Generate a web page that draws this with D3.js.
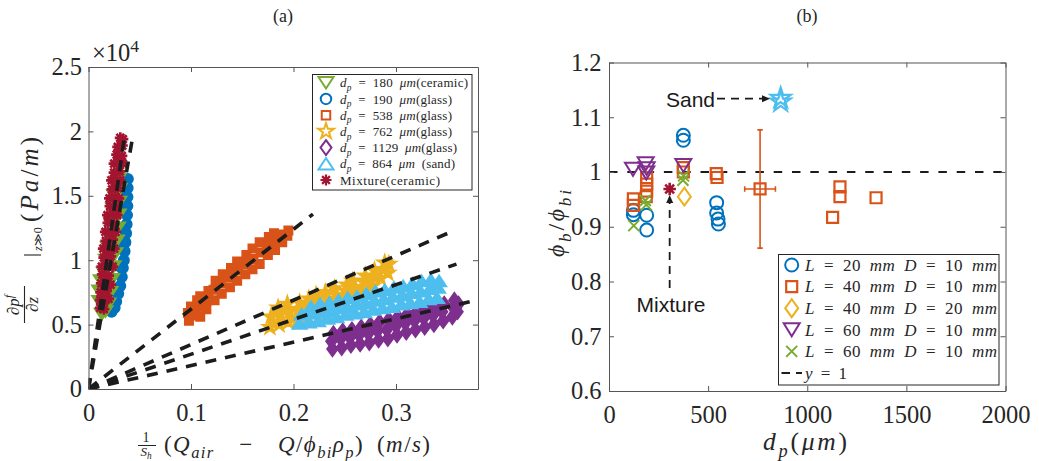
<!DOCTYPE html>
<html>
<head>
<meta charset="utf-8">
<script src="https://cdn.jsdelivr.net/npm/d3@7"></script>
<style>
  body { margin: 0; background: #fff; }
  svg { display: block; }
</style>
</head>
<body>
<svg id="fig" width="1039" height="461"></svg>
<script>
// ---------------- Panel (a): pressure gradient vs. superficial gas velocity ----------------
// x: (1/S_h)(Q_air - Q/phi_bi rho_p) in m/s, y: dp/dz in units of 10^4 Pa/m
const gradCeramic180 = [
  [0.0130,0.58],[0.0165,0.60],[0.0105,0.68],[0.0195,0.66],[0.0105,0.76],[0.0215,0.75],
  [0.0120,0.84],[0.0230,0.85],[0.0150,0.90],[0.0245,0.95],[0.0170,1.00],[0.0262,1.05],
  [0.0190,1.10],[0.0277,1.15],[0.0210,1.20],[0.0287,1.25],[0.0220,1.30],[0.0294,1.35],
  [0.0240,1.40],[0.0300,1.45],[0.0250,1.50],[0.0303,1.55],[0.0260,1.60],[0.0295,1.63]
];
const gradGlass190 = [
  [0.0225,0.60],[0.0255,0.63],[0.0270,0.68],[0.0290,0.74],[0.0310,0.80],[0.0325,0.87],
  [0.0335,0.94],[0.0345,1.00],[0.0352,1.07],[0.0360,1.14],[0.0367,1.21],[0.0372,1.28],
  [0.0376,1.35],[0.0379,1.42],[0.0380,1.49],[0.0382,1.56],[0.0384,1.63],
  [0.0310,0.95],[0.0330,1.10],[0.0340,1.25],[0.0350,1.40],[0.0355,1.55]
];
const gradGlass538 = [
  [0.098,0.53],[0.097,0.59],[0.100,0.64],[0.104,0.57],[0.105,0.63],[0.106,0.69],
  [0.109,0.56],[0.110,0.64],[0.109,0.72],[0.115,0.62],[0.116,0.69],[0.117,0.76],
  [0.123,0.69],[0.122,0.77],[0.124,0.84],[0.130,0.74],[0.129,0.82],[0.131,0.89],
  [0.138,0.79],[0.137,0.87],[0.139,0.94],[0.145,0.84],[0.146,0.92],[0.145,0.99],
  [0.153,0.89],[0.152,0.97],[0.154,1.04],[0.160,0.93],[0.161,1.01],[0.160,1.09],
  [0.167,0.97],[0.168,1.06],[0.167,1.14],[0.175,1.04],[0.174,1.12],[0.176,1.18],
  [0.182,1.08],[0.183,1.15],[0.181,1.21],[0.189,1.14],[0.190,1.20],[0.194,1.19],
  [0.195,1.23]
];
const gradGlass762 = [
  [0.177,0.48],[0.178,0.56],[0.186,0.50],[0.187,0.58],[0.185,0.63],
  [0.195,0.52],[0.196,0.60],[0.194,0.66],[0.204,0.54],[0.205,0.62],[0.206,0.67],
  [0.214,0.57],[0.213,0.64],[0.215,0.70],[0.223,0.60],[0.224,0.67],[0.222,0.73],
  [0.232,0.62],[0.233,0.70],[0.231,0.75],[0.241,0.66],[0.242,0.73],[0.240,0.78],
  [0.250,0.69],[0.251,0.76],[0.252,0.81],[0.259,0.72],[0.260,0.79],[0.258,0.84],
  [0.268,0.76],[0.269,0.83],[0.270,0.88],[0.277,0.80],[0.278,0.87],[0.279,0.92],
  [0.285,0.86],[0.287,0.93],[0.289,0.98],[0.292,0.90],[0.293,0.97]
];
const gradGlass1129 = [
  [0.238,0.31],[0.237,0.37],[0.239,0.43],[0.247,0.32],[0.246,0.39],[0.248,0.45],
  [0.256,0.34],[0.255,0.40],[0.257,0.46],[0.265,0.35],[0.264,0.42],[0.266,0.48],
  [0.274,0.36],[0.273,0.43],[0.275,0.50],[0.283,0.38],[0.282,0.45],[0.284,0.52],
  [0.292,0.39],[0.291,0.46],[0.293,0.54],[0.301,0.42],[0.300,0.49],[0.302,0.56],
  [0.310,0.44],[0.309,0.51],[0.311,0.58],[0.319,0.46],[0.318,0.53],[0.320,0.60],
  [0.328,0.48],[0.327,0.55],[0.329,0.62],[0.337,0.50],[0.336,0.57],[0.338,0.64],
  [0.346,0.53],[0.345,0.60],[0.347,0.66],[0.355,0.56],[0.356,0.63],[0.357,0.69],
  [0.360,0.60],[0.361,0.66]
];
const gradSand864 = [
  [0.206,0.51],[0.208,0.58],[0.215,0.52],[0.216,0.59],[0.217,0.64],
  [0.224,0.53],[0.225,0.60],[0.226,0.66],[0.233,0.55],[0.234,0.61],[0.235,0.67],
  [0.242,0.56],[0.243,0.63],[0.244,0.69],[0.251,0.58],[0.252,0.64],[0.253,0.71],
  [0.260,0.59],[0.261,0.66],[0.262,0.72],[0.269,0.60],[0.270,0.67],[0.271,0.74],
  [0.278,0.62],[0.279,0.69],[0.280,0.76],[0.287,0.63],[0.288,0.70],[0.289,0.77],
  [0.296,0.64],[0.297,0.72],[0.298,0.79],[0.305,0.66],[0.306,0.73],[0.307,0.80],
  [0.314,0.67],[0.315,0.75],[0.316,0.82],[0.323,0.68],[0.324,0.76],[0.325,0.84],
  [0.332,0.70],[0.333,0.78],[0.334,0.85],[0.340,0.71],[0.341,0.79],[0.342,0.84]
];
const gradMixture = [
  [0.0115,0.63],[0.0150,0.62],[0.0115,0.69],[0.0150,0.68],[0.0195,0.70],
  [0.0120,0.75],[0.0175,0.76],[0.0125,0.82],[0.0165,0.83],[0.0215,0.81],
  [0.0135,0.89],[0.0195,0.88],[0.0130,0.95],[0.0180,0.96],[0.0235,0.95],
  [0.0150,1.02],[0.0215,1.03],[0.0145,1.09],[0.0200,1.08],[0.0250,1.09],
  [0.0170,1.15],[0.0235,1.16],[0.0165,1.22],[0.0220,1.21],[0.0265,1.22],
  [0.0190,1.29],[0.0250,1.28],[0.0185,1.35],[0.0240,1.36],[0.0280,1.35],
  [0.0210,1.42],[0.0270,1.41],[0.0205,1.48],[0.0260,1.49],[0.0295,1.48],
  [0.0230,1.55],[0.0285,1.56],[0.0225,1.62],[0.0275,1.61],[0.0310,1.62],
  [0.0250,1.68],[0.0305,1.69],[0.0250,1.75],[0.0300,1.76],[0.0335,1.75],
  [0.0275,1.82],[0.0325,1.81],[0.0285,1.88],[0.0330,1.89],[0.0310,1.95],[0.0335,1.94]
];
// linear fits through the origin: slope (10^4 Pa/m per m/s) and last x of each fit
const fitSlope = [55.8, 45.4, 6.2, 3.45, 2.70, 1.82];
const fitXEnd  = [0.0356, 0.0434, 0.219, 0.356, 0.359, 0.38];

const ticksAx = [0, 0.1, 0.2, 0.3];
const ticksAy = [0, 0.5, 1, 1.5, 2, 2.5];

// ---------------- Panel (b): bed fraction ratio vs. particle diameter ----------------
const ratioL20D10 = [[123,0.930],[123,0.922],[190,0.921],[190,0.894],[375,1.067],[375,1.058],
                     [543,0.944],[543,0.925],[550,0.914],[552,0.905]];
const ratioL40D10 = [[123,0.951],[123,0.939],[190,0.990],[190,0.978],[190,0.965],[188,0.955],
                     [375,1.008],[375,1.000],[541,0.997],[545,0.990],[762,0.969],
                     [1128,0.917],[1165,0.973],[1165,0.955],[1347,0.953]];
const ratioL40D20 = [[380,0.955]];
const ratioL60D10 = [[121,1.005],[185,1.015],[190,1.006],[188,0.998],[375,1.012]];
const ratioL60D10b = [[125,0.902],[183,0.948],[188,0.940],[373,0.985],[376,0.993]];
const ratioMixture = [[306,0.969]];
const ratioSand = [[866,1.135],[866,1.128]];
// spread of the 762 um measurement: [x, y, x half-range, y half-range]
const spread762 = [762, 0.969, 77.5, 0.108];

const ticksBx = [0, 500, 1000, 1500, 2000];
const ticksBy = [0.6, 0.7, 0.8, 0.9, 1, 1.1, 1.2];

// ---------------- legend labels (\u2002 / \u2003 = math spacing) ----------------
const legendA = [
  [['d','i'],['p','ib'],['\u2002=\u2002180\u2002'],['μm','i'],['(ceramic)']],
  [['d','i'],['p','ib'],['\u2002=\u2002190\u2002'],['μm','i'],['(glass)']],
  [['d','i'],['p','ib'],['\u2002=\u2002538\u2002'],['μm','i'],['(glass)']],
  [['d','i'],['p','ib'],['\u2002=\u2002762\u2002'],['μm','i'],['(glass)']],
  [['d','i'],['p','ib'],['\u2002=\u20021129\u2002'],['μm','i'],['(glass)']],
  [['d','i'],['p','ib'],['\u2002=\u2002864\u2002'],['μm','i'],['\u2002(sand)']],
  [['Mixture(ceramic)']]
];
const legendAWidth = [128, 112, 112, 112, 117, 115, 100];
const legendB = [
  [['L','i'],['\u2002=\u200220\u2002'],['mm','i'],['\u2002'],['D','i'],['\u2002=\u200210\u2002'],['mm','i']],
  [['L','i'],['\u2002=\u200240\u2002'],['mm','i'],['\u2002'],['D','i'],['\u2002=\u200210\u2002'],['mm','i']],
  [['L','i'],['\u2002=\u200240\u2002'],['mm','i'],['\u2002'],['D','i'],['\u2002=\u200220\u2002'],['mm','i']],
  [['L','i'],['\u2002=\u200260\u2002'],['mm','i'],['\u2002'],['D','i'],['\u2002=\u200210\u2002'],['mm','i']],
  [['L','i'],['\u2002=\u200260\u2002'],['mm','i'],['\u2002'],['D','i'],['\u2002=\u200210\u2002'],['mm','i']],
  [['y','i'],['\u2002=\u20021']]
];
const legendBWidth = [192, 192, 192, 192, 192, 42];

// ---------------- styling ----------------
const C = {blue:'#0072BD', orange:'#D95319', yellow:'#EDB120', purple:'#7E2F8E',
           green:'#77AC30', cyan:'#4DBEEE', red:'#A2142F'};
const SERIF = '"Liberation Serif","Times New Roman",serif';
const SANS = '"Liberation Sans",Arial,sans-serif';
const TXT = '#262626';
const AX = '#555';
const TICK_FS = 24.5;

const svg = d3.select('#fig');
svg.append('rect').attr('width', 1039).attr('height', 461).attr('fill', '#fff');

// marker outlines centred on (0,0)
const mk = {
  circle: s => { const r = s/2; return `M${r},0A${r},${r} 0 1,1 ${-r},0A${r},${r} 0 1,1 ${r},0Z`; },
  square: s => { const h = s/2; return `M${-h},${-h}H${h}V${h}H${-h}Z`; },
  diamond: (w,h) => `M0,${-h/2}L${w/2},0L0,${h/2}L${-w/2},0Z`,
  triDown: (w,h) => `M${-w/2},${-h/2}L${w/2},${-h/2}L0,${h/2}Z`,
  triUp: (w,h) => `M${-w/2},${h/2}L${w/2},${h/2}L0,${-h/2}Z`,
  star: R => { const r = R*0.382; let p = '';
    for (let i = 0; i < 10; i++) { const a = -Math.PI/2 + i*Math.PI/5, rr = i%2 ? r : R;
      p += (i ? 'L' : 'M') + (rr*Math.cos(a)).toFixed(2) + ',' + (rr*Math.sin(a)).toFixed(2); }
    return p + 'Z'; },
  cross: s => { const h = s/2; return `M${-h},${-h}L${h},${h}M${-h},${h}L${h},${-h}`; },
  asterisk: s => { const h = s/2, d = h*0.7071;
    return `M${-h},0H${h}M0,${-h}V${h}M${-d},${-d}L${d},${d}M${-d},${d}L${d},${-d}`; }
};

// text with italic / subscript / superscript runs
function rich(text, parts, fs) {
  text.style('font-family', SERIF);
  let shift = 0;
  parts.forEach(([t, f = '']) => {
    const ts = text.append('tspan').text(t);
    if (f.includes('i')) ts.attr('font-style', 'italic');
    let target = 0, size = fs;
    if (f.includes('b')) { target = fs*0.28; size = fs*0.72; }
    if (f.includes('p')) { target = -fs*0.38; size = fs*0.72; }
    ts.attr('font-size', size);
    if (target !== shift) { ts.attr('dy', target - shift); shift = target; }
  });
  return text;
}

function drawAxes(g, x, y, xt, yt, padX, padY) {
  const [x0, x1] = x.range(), [y0, y1] = y.range();
  const fmt = d => String(d);
  const style = s => {
    s.select('.domain').attr('stroke', AX).attr('stroke-width', 1);
    s.selectAll('.tick line').attr('stroke', AX).attr('stroke-width', 1);
    s.selectAll('text').style('fill', TXT).style('font-family', SERIF).style('font-size', TICK_FS + 'px');
  };
  g.append('g').attr('transform', `translate(0,${y0})`)
    .call(d3.axisBottom(x).tickValues(xt).tickFormat(fmt).tickSizeInner(-5).tickSizeOuter(0).tickPadding(padX)).call(style);
  g.append('g').attr('transform', `translate(0,${y1})`)
    .call(d3.axisTop(x).tickValues(xt).tickSizeInner(-5).tickSizeOuter(0).tickFormat('')).call(style);
  g.append('g').attr('transform', `translate(${x0},0)`)
    .call(d3.axisLeft(y).tickValues(yt).tickFormat(fmt).tickSizeInner(-5).tickSizeOuter(0).tickPadding(padY)).call(style);
  g.append('g').attr('transform', `translate(${x1},0)`)
    .call(d3.axisRight(y).tickValues(yt).tickSizeInner(-5).tickSizeOuter(0).tickFormat('')).call(style);
}

function drawMarks(g, pts, x, y, d, color, sw, filled) {
  g.selectAll(null).data(pts).join('path')
    .attr('d', d)
    .attr('transform', p => `translate(${x(p[0])},${y(p[1])})`)
    .attr('fill', filled ? color : 'none')
    .attr('stroke', color).attr('stroke-width', sw)
    .attr('stroke-linejoin', 'miter');
}

const defs = svg.append('defs');

// ======================= panel (a) =======================
const xa = d3.scaleLinear().domain([0, 0.38]).range([88.5, 478]);
const ya = d3.scaleLinear().domain([0, 2.5]).range([389, 67]);
defs.append('clipPath').attr('id', 'clipA').append('rect')
  .attr('x', xa.range()[0]).attr('y', ya.range()[1])
  .attr('width', xa.range()[1] - xa.range()[0]).attr('height', ya.range()[0] - ya.range()[1]);

const gA = svg.append('g');
const plotA = gA.append('g').attr('clip-path', 'url(#clipA)');

const seriesA = {
  c180: {pts: gradCeramic180, d: mk.triDown(15, 11.5), color: C.green, fill: true, sw: 1.5},
  g190: {pts: gradGlass190, d: mk.circle(10.5), color: C.blue, fill: true, sw: 1.5},
  g538: {pts: gradGlass538, d: mk.square(8.5), color: C.orange, fill: true, sw: 1.5},
  g762: {pts: gradGlass762, d: mk.star(8.2), color: C.yellow, fill: true, sw: 1.5},
  g1129: {pts: gradGlass1129, d: mk.diamond(11, 15), color: C.purple, fill: true, sw: 1.5},
  s864: {pts: gradSand864, d: mk.triUp(15, 11.5), color: C.cyan, fill: true, sw: 1.5},
  mix: {pts: gradMixture, d: mk.asterisk(11), color: C.red, fill: false, sw: 2.6}
};
['g190', 'c180', 'g538', 'g762', 'g1129', 's864', 'mix'].forEach(k => {
  const s = seriesA[k];
  drawMarks(plotA, s.pts, xa, ya, s.d, s.color, s.sw, s.fill);
});

// fitted lines
plotA.selectAll('line.fit').data(d3.zip(fitSlope, fitXEnd)).join('line')
  .attr('class', 'fit')
  .attr('x1', xa(0)).attr('y1', ya(0))
  .attr('x2', d => xa(d[1])).attr('y2', d => ya(d[0]*d[1]))
  .attr('stroke', '#1c1c1c').attr('stroke-width', 3.6).attr('stroke-dasharray', '11,9');

drawAxes(gA, xa, ya, ticksAx, ticksAy, 14.5, 6.5);

// exponent label
rich(gA.append('text').attr('x', 92).attr('y', 61).style('fill', TXT), [['×10'], ['4', 'p']], TICK_FS);

// legend (a)
const legA = gA.append('g');
legA.append('rect').attr('x', 312.5).attr('y', 74.5).attr('width', 159.5).attr('height', 115.5)
  .attr('fill', '#fff').attr('stroke', '#262626').attr('stroke-width', 1);
const legAOrder = ['c180', 'g190', 'g538', 'g762', 'g1129', 's864', 'mix'];
const legAY = d3.scaleLinear().domain([0, 6]).range([82.7, 180]);
legAOrder.forEach((k, i) => {
  const s = seriesA[k];
  legA.append('path').attr('d', s.d).attr('transform', `translate(326,${legAY(i)})`)
    .attr('fill', 'none').attr('stroke', s.color).attr('stroke-width', k === 'mix' ? 2.2 : 2);
  const t = legA.append('text').attr('x', 340).attr('y', legAY(i) + 4.6).style('fill', TXT)
    .attr('textLength', legendAWidth[i]).attr('lengthAdjust', 'spacing');
  rich(t, legendA[i], 13);
});

// titles and axis labels (a)
svg.append('text').attr('x', 283).attr('y', 22).attr('text-anchor', 'middle')
  .style('font-family', SERIF).attr('font-size', 18).style('fill', TXT).text('(a)');

const xlA = gA.append('g').style('fill', TXT);
rich(xlA.append('text').attr('x', 146).attr('y', 442).attr('text-anchor', 'middle'), [['1']], 14);
xlA.append('line').attr('x1', 138).attr('x2', 156).attr('y1', 445.5).attr('y2', 445.5)
  .attr('stroke', TXT).attr('stroke-width', 1);
rich(xlA.append('text').attr('x', 146).attr('y', 455.5).attr('text-anchor', 'middle'),
  [['S', 'i'], ['h', 'ib']], 13);
rich(xlA.append('text').attr('x', 164).attr('y', 451.5).attr('textLength', 266).attr('lengthAdjust', 'spacing'),
  [['('], ['Q', 'i'], ['air', 'ib'], ['\u2003−\u2003'], ['Q', 'i'], ['/'], ['ϕ', 'i'], ['bi', 'ib'], ['ρ', 'i'], ['p', 'ib'],
   [')\u2002('], ['m', 'i'], ['/'], ['s', 'i'], [')']], 23);

const ylA = gA.append('g').attr('transform', 'translate(38,323) rotate(-90)').style('fill', TXT);
rich(ylA.append('text').attr('x', 18).attr('y', -19).attr('text-anchor', 'middle'),
  [['∂'], ['p', 'i'], ['f', 'ip']], 17);
ylA.append('line').attr('x1', 0).attr('x2', 37).attr('y1', -13.5).attr('y2', -13.5)
  .attr('stroke', TXT).attr('stroke-width', 1.1);
rich(ylA.append('text').attr('x', 18.5).attr('y', 0).attr('text-anchor', 'middle'),
  [['∂'], ['z', 'i']], 17);
ylA.append('line').attr('x1', 68).attr('x2', 68).attr('y1', -14).attr('y2', 3)
  .attr('stroke', TXT).attr('stroke-width', 1.1);
rich(ylA.append('text').attr('x', 72).attr('y', 4), [['z', 'i'], ['≫0']], 12);
rich(ylA.append('text').attr('x', 101).attr('y', 0).attr('textLength', 85).attr('lengthAdjust', 'spacing'),
  [['('], ['Pa', 'i'], ['/'], ['m', 'i'], [')']], 25);

// ======================= panel (b) =======================
const xb = d3.scaleLinear().domain([0, 2000]).range([609, 1005.5]);
const yb = d3.scaleLinear().domain([0.6, 1.2]).range([391, 62.5]);
defs.append('clipPath').attr('id', 'clipB').append('rect')
  .attr('x', xb.range()[0]).attr('y', yb.range()[1])
  .attr('width', xb.range()[1] - xb.range()[0]).attr('height', yb.range()[0] - yb.range()[1]);

const gB = svg.append('g');
const plotB = gB.append('g').attr('clip-path', 'url(#clipB)');

// reference line y = 1
plotB.append('line').attr('x1', xb(0)).attr('x2', xb(2000)).attr('y1', yb(1)).attr('y2', yb(1))
  .attr('stroke', '#1c1c1c').attr('stroke-width', 2.2).attr('stroke-dasharray', '8.5,9.8');

// spread bars of the 762 um case
const [ex, ey, edx, edy] = spread762;
const eb = plotB.append('g').attr('stroke', C.orange).attr('stroke-width', 1.6);
eb.append('line').attr('x1', xb(ex)).attr('x2', xb(ex)).attr('y1', yb(ey - edy)).attr('y2', yb(ey + edy));
eb.append('line').attr('x1', xb(ex - edx)).attr('x2', xb(ex + edx)).attr('y1', yb(ey)).attr('y2', yb(ey));
[ey - edy, ey + edy].forEach(v => eb.append('line').attr('x1', xb(ex) - 2.7).attr('x2', xb(ex) + 2.7)
  .attr('y1', yb(v)).attr('y2', yb(v)));
[ex - edx, ex + edx].forEach(v => eb.append('line').attr('y1', yb(ey) - 2.7).attr('y2', yb(ey) + 2.7)
  .attr('x1', xb(v)).attr('x2', xb(v)));

const seriesB = [
  {pts: ratioL20D10, d: mk.circle(13), color: C.blue, sw: 2},
  {pts: ratioL40D10, d: mk.square(11), color: C.orange, sw: 2.2},
  {pts: ratioL40D20, d: mk.diamond(13, 18), color: C.yellow, sw: 2},
  {pts: ratioL60D10, d: mk.triDown(16, 13), color: C.purple, sw: 2},
  {pts: ratioL60D10b, d: mk.cross(11), color: C.green, sw: 2}
];
seriesB.forEach(s => drawMarks(plotB, s.pts, xb, yb, s.d, s.color, s.sw, false));
drawMarks(plotB, ratioMixture, xb, yb, mk.asterisk(12.5), C.red, 2.6, false);
drawMarks(plotB, ratioSand, xb, yb, mk.star(10.5), C.cyan, 2.2, false);

drawAxes(gB, xb, yb, ticksBx, ticksBy, 14.5, 7.5);

// annotations
const ann = gB.append('g').style('font-family', SANS).attr('font-size', 21).style('fill', '#1a1a1a');
ann.append('text').attr('x', 715).attr('y', 106.7).attr('text-anchor', 'end').text('Sand');
ann.append('text').attr('x', 671).attr('y', 311.7).attr('text-anchor', 'middle').text('Mixture');
const arrowSandY = 1.134;
ann.append('line').attr('x1', 717).attr('x2', 763).attr('y1', yb(arrowSandY)).attr('y2', yb(arrowSandY))
  .attr('stroke', '#1a1a1a').attr('stroke-width', 1.6).attr('stroke-dasharray', '8,6');
ann.append('path').attr('d', `M770,${yb(arrowSandY)}l-8,-3.5v7Z`).attr('fill', '#1a1a1a');
const arrowMixX = 306;
ann.append('line').attr('x1', xb(arrowMixX)).attr('x2', xb(arrowMixX)).attr('y1', 288).attr('y2', 202)
  .attr('stroke', '#1a1a1a').attr('stroke-width', 1.8).attr('stroke-dasharray', '8,6');
ann.append('path').attr('d', `M${xb(arrowMixX)},195l-3.5,8h7Z`).attr('fill', '#1a1a1a');

// legend (b)
const legB = gB.append('g');
legB.append('rect').attr('x', 778.5).attr('y', 254.5).attr('width', 220.5).attr('height', 130.5)
  .attr('fill', '#fff').attr('stroke', '#262626').attr('stroke-width', 1);
const legBY = d3.scaleLinear().domain([0, 5]).range([265, 373]);
seriesB.forEach((s, i) => {
  legB.append('path').attr('d', s.d).attr('transform', `translate(791.7,${legBY(i)})`)
    .attr('fill', 'none').attr('stroke', s.color).attr('stroke-width', s.sw);
});
legB.append('line').attr('x1', 781.5).attr('x2', 802).attr('y1', legBY(5)).attr('y2', legBY(5))
  .attr('stroke', '#1c1c1c').attr('stroke-width', 2.2).attr('stroke-dasharray', '8.5,6');
legendB.forEach((parts, i) => {
  const t = legB.append('text').attr('x', 805).attr('y', legBY(i) + 5.8).style('fill', TXT)
    .attr('textLength', legendBWidth[i]).attr('lengthAdjust', 'spacing');
  rich(t, parts, 17);
});

// titles and axis labels (b)
svg.append('text').attr('x', 807).attr('y', 22).attr('text-anchor', 'middle')
  .style('font-family', SERIF).attr('font-size', 18).style('fill', TXT).text('(b)');
rich(gB.append('text').attr('x', 763).attr('y', 450).style('fill', TXT)
  .attr('textLength', 84).attr('lengthAdjust', 'spacing'),
  [['d', 'i'], ['p', 'ib'], ['('], ['μm', 'i'], [')']], 25.5);
rich(gB.append('g').attr('transform', 'translate(564,257) rotate(-90)').append('text')
  .attr('x', 0).attr('y', 0).style('fill', TXT)
  .attr('textLength', 67).attr('lengthAdjust', 'spacing'),
  [['ϕ', 'i'], ['b', 'ib'], ['/'], ['ϕ', 'i'], ['bi', 'ib']], 24);
</script>
</body>
</html>
